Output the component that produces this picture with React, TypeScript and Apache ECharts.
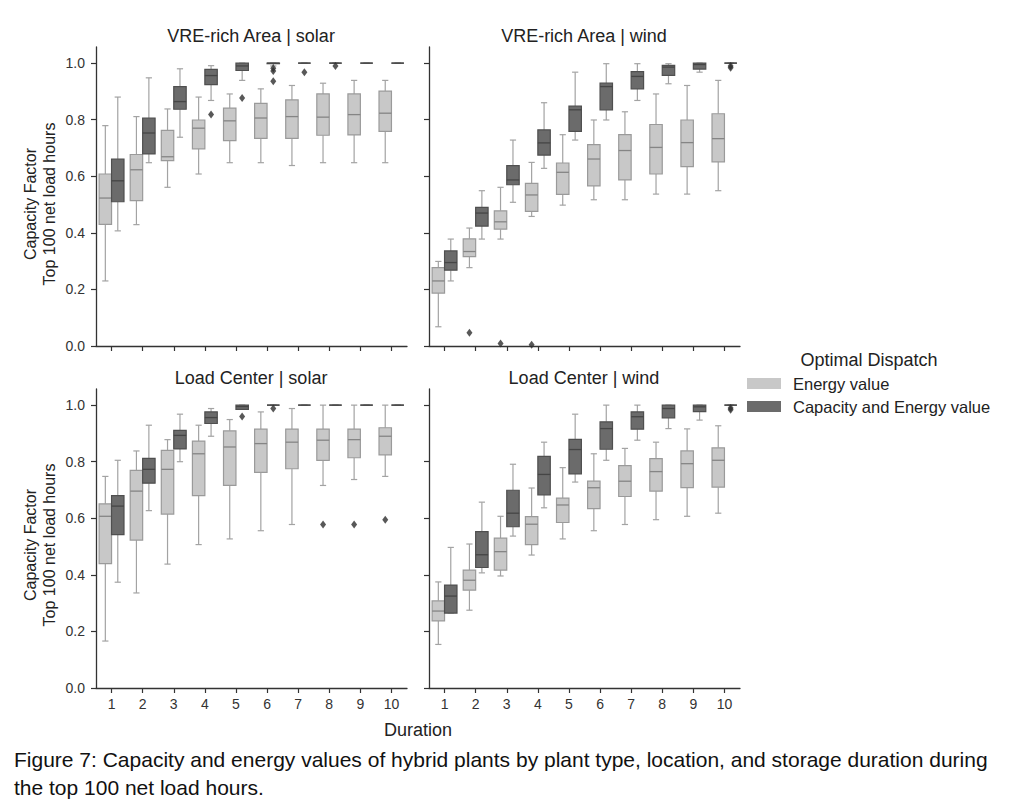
import { useEffect, useRef } from 'react';
import * as echarts from 'echarts';

const durations = ['1', '2', '3', '4', '5', '6', '7', '8', '9', '10'];
const yTicks = [0, 0.2, 0.4, 0.6, 0.8, 1.0];

// [low whisker, q1, median, q3, high whisker] per duration 1..10
const vreSolarEnergy = [
  [0.23, 0.43, 0.523, 0.608, 0.779],
  [0.429, 0.514, 0.623, 0.677, 0.811],
  [0.561, 0.655, 0.669, 0.762, 0.838],
  [0.608, 0.697, 0.77, 0.799, 0.88],
  [0.648, 0.726, 0.796, 0.841, 0.891],
  [0.648, 0.734, 0.806, 0.858, 0.909],
  [0.638, 0.734, 0.811, 0.87, 0.921],
  [0.648, 0.745, 0.809, 0.891, 0.929],
  [0.648, 0.746, 0.818, 0.891, 0.939],
  [0.648, 0.759, 0.823, 0.901, 0.939],
];
const vreSolarCapacity = [
  [0.407, 0.51, 0.584, 0.661, 0.88],
  [0.648, 0.679, 0.753, 0.806, 0.948],
  [0.738, 0.837, 0.864, 0.917, 0.98],
  [0.868, 0.924, 0.956, 0.978, 0.991],
  [0.939, 0.974, 0.99, 1.0, 1.0],
  [0.99, 0.998, 1.0, 1.0, 1.0],
  [1.0, 1.0, 1.0, 1.0, 1.0],
  [1.0, 1.0, 1.0, 1.0, 1.0],
  [1.0, 1.0, 1.0, 1.0, 1.0],
  [1.0, 1.0, 1.0, 1.0, 1.0],
];
const vreSolarEnergyOutliers: number[][] = [];
const vreSolarCapacityOutliers = [
  [3, 0.818], [4, 0.877], [5, 0.982], [5, 0.972], [5, 0.936], [6, 0.968], [7, 0.99],
];

const vreWindEnergy = [
  [0.068, 0.187, 0.23, 0.277, 0.299],
  [0.277, 0.316, 0.334, 0.379, 0.417],
  [0.378, 0.413, 0.439, 0.478, 0.561],
  [0.458, 0.476, 0.534, 0.575, 0.649],
  [0.498, 0.536, 0.614, 0.647, 0.747],
  [0.517, 0.566, 0.661, 0.712, 0.799],
  [0.517, 0.587, 0.691, 0.747, 0.828],
  [0.537, 0.608, 0.702, 0.783, 0.891],
  [0.537, 0.634, 0.719, 0.799, 0.921],
  [0.549, 0.651, 0.733, 0.821, 0.939],
];
const vreWindCapacity = [
  [0.23, 0.268, 0.295, 0.336, 0.378],
  [0.378, 0.424, 0.47, 0.49, 0.549],
  [0.508, 0.57, 0.587, 0.638, 0.728],
  [0.628, 0.675, 0.718, 0.764, 0.86],
  [0.728, 0.759, 0.835, 0.848, 0.968],
  [0.799, 0.835, 0.917, 0.929, 0.998],
  [0.868, 0.909, 0.953, 0.97, 0.998],
  [0.927, 0.957, 0.986, 0.992, 0.998],
  [0.968, 0.979, 0.995, 1.0, 1.0],
  [1.0, 1.0, 1.0, 1.0, 1.0],
];
const vreWindEnergyOutliers = [[1, 0.047], [2, 0.009], [3, 0.004]];
const vreWindCapacityOutliers = [[9, 0.99], [9, 0.984]];

const loadSolarEnergy = [
  [0.166, 0.44, 0.607, 0.651, 0.748],
  [0.336, 0.523, 0.696, 0.769, 0.838],
  [0.438, 0.615, 0.773, 0.84, 0.878],
  [0.507, 0.68, 0.828, 0.873, 0.929],
  [0.527, 0.716, 0.852, 0.909, 0.949],
  [0.556, 0.762, 0.864, 0.915, 0.976],
  [0.578, 0.775, 0.869, 0.915, 0.988],
  [0.716, 0.805, 0.876, 0.915, 1.0],
  [0.737, 0.814, 0.878, 0.915, 1.0],
  [0.748, 0.824, 0.89, 0.92, 1.0],
];
const loadSolarCapacity = [
  [0.374, 0.542, 0.643, 0.68, 0.805],
  [0.627, 0.724, 0.773, 0.812, 0.929],
  [0.8, 0.845, 0.893, 0.911, 0.968],
  [0.89, 0.935, 0.956, 0.976, 0.988],
  [0.985, 0.985, 0.995, 1.0, 1.0],
  [1.0, 1.0, 1.0, 1.0, 1.0],
  [1.0, 1.0, 1.0, 1.0, 1.0],
  [1.0, 1.0, 1.0, 1.0, 1.0],
  [1.0, 1.0, 1.0, 1.0, 1.0],
  [1.0, 1.0, 1.0, 1.0, 1.0],
];
const loadSolarEnergyOutliers = [[7, 0.578], [8, 0.578], [9, 0.595]];
const loadSolarCapacityOutliers = [[4, 0.96], [5, 0.988]];

const loadWindEnergy = [
  [0.154, 0.237, 0.272, 0.308, 0.375],
  [0.275, 0.346, 0.381, 0.417, 0.509],
  [0.396, 0.417, 0.482, 0.53, 0.607],
  [0.47, 0.507, 0.579, 0.606, 0.707],
  [0.527, 0.585, 0.647, 0.671, 0.779],
  [0.556, 0.634, 0.708, 0.731, 0.828],
  [0.578, 0.677, 0.731, 0.786, 0.847],
  [0.595, 0.696, 0.765, 0.811, 0.869],
  [0.607, 0.708, 0.793, 0.838, 0.916],
  [0.618, 0.71, 0.805, 0.849, 0.927],
];
const loadWindCapacity = [
  [0.265, 0.265, 0.325, 0.364, 0.497],
  [0.407, 0.426, 0.471, 0.553, 0.657],
  [0.537, 0.57, 0.618, 0.699, 0.791],
  [0.637, 0.683, 0.755, 0.819, 0.869],
  [0.728, 0.757, 0.843, 0.879, 0.968],
  [0.805, 0.844, 0.917, 0.941, 1.0],
  [0.876, 0.915, 0.959, 0.976, 1.0],
  [0.917, 0.955, 0.988, 1.0, 1.0],
  [0.947, 0.977, 0.994, 1.0, 1.0],
  [1.0, 1.0, 1.0, 1.0, 1.0],
];
const loadWindEnergyOutliers: number[][] = [];
const loadWindCapacityOutliers = [[9, 0.99], [9, 0.984]];

const panelTitles = ['VRE-rich Area | solar', 'VRE-rich Area | wind', 'Load Center | solar', 'Load Center | wind'];
const hueNames = ['Energy value', 'Capacity and Energy value'];

const panels = [
  { title: panelTitles[0], e: vreSolarEnergy, c: vreSolarCapacity, eo: vreSolarEnergyOutliers, co: vreSolarCapacityOutliers },
  { title: panelTitles[1], e: vreWindEnergy, c: vreWindCapacity, eo: vreWindEnergyOutliers, co: vreWindCapacityOutliers },
  { title: panelTitles[2], e: loadSolarEnergy, c: loadSolarCapacity, eo: loadSolarEnergyOutliers, co: loadSolarCapacityOutliers },
  { title: panelTitles[3], e: loadWindEnergy, c: loadWindCapacity, eo: loadWindEnergyOutliers, co: loadWindCapacityOutliers },
];

const FONT = 'Liberation Sans, Arial, sans-serif';
const LIGHT = '#c8c8c8';
const DARK = '#6b6b6b';
const WHISKER = '#a3a3a3';

const grids = [
  { left: 96, top: 47, width: 311, height: 299 },
  { left: 429, top: 47, width: 311, height: 299 },
  { left: 96, top: 389, width: 311, height: 299 },
  { left: 429, top: 389, width: 311, height: 299 },
];

function makeRender(side: number, fill: string, edge: string, medianColor: string) {
  return (_params: any, api: any) => {
    const idx = api.value(0);
    const band = api.size([1, 0])[0];
    const w = band * 0.4;
    const cx = api.coord([idx, 0])[0] + side * band * 0.2;
    const yLow = api.coord([idx, api.value(1)])[1];
    const yQ1 = api.coord([idx, api.value(2)])[1];
    const yMed = api.coord([idx, api.value(3)])[1];
    const yQ3 = api.coord([idx, api.value(4)])[1];
    const yHigh = api.coord([idx, api.value(5)])[1];
    const capW = w * 0.5;
    const ws = { stroke: WHISKER, lineWidth: 1.2 };
    return {
      type: 'group',
      children: [
        { type: 'line', shape: { x1: cx, y1: yLow, x2: cx, y2: yQ1 }, style: ws },
        { type: 'line', shape: { x1: cx, y1: yQ3, x2: cx, y2: yHigh }, style: ws },
        { type: 'line', shape: { x1: cx - capW / 2, y1: yLow, x2: cx + capW / 2, y2: yLow }, style: ws },
        { type: 'line', shape: { x1: cx - capW / 2, y1: yHigh, x2: cx + capW / 2, y2: yHigh }, style: ws },
        {
          type: 'rect',
          shape: { x: cx - w / 2, y: yQ3, width: w, height: Math.max(yQ1 - yQ3, 0) },
          style: { fill, stroke: edge, lineWidth: 1.2 },
        },
        { type: 'line', shape: { x1: cx - w / 2, y1: yMed, x2: cx + w / 2, y2: yMed }, style: { stroke: medianColor, lineWidth: 1.3 } },
      ],
    };
  };
}

export default function App() {
  const ref = useRef<HTMLDivElement>(null);
  useEffect(() => {
    if (!ref.current) return;
    const chart = echarts.init(ref.current, undefined, { renderer: 'svg' });

    const xAxis = grids.map((_, i) => ({
      type: 'category',
      gridIndex: i,
      data: durations,
      boundaryGap: true,
      axisLine: { lineStyle: { color: '#333', width: 1.3 } },
      axisTick: { show: true, alignWithLabel: true, length: 5, lineStyle: { color: '#333', width: 1.2 } },
      axisLabel: { show: i >= 2, color: '#333', fontSize: 14, fontFamily: FONT, margin: 9 },
      splitLine: { show: false },
    }));
    const yAxis = grids.map((_, i) => ({
      type: 'value',
      gridIndex: i,
      min: 0,
      max: 1.057,
      axisLine: { show: true, lineStyle: { color: '#333', width: 1.3 } },
      axisTick: { show: true, length: 5, customValues: yTicks, lineStyle: { color: '#333', width: 1.2 } },
      axisLabel: {
        show: i % 2 === 0,
        customValues: yTicks,
        color: '#333',
        fontSize: 14,
        fontFamily: FONT,
        margin: 11,
        formatter: (v: number) => v.toFixed(1),
      },
      splitLine: { show: false },
    }));

    const series: any[] = [];
    panels.forEach((p, i) => {
      series.push({
        type: 'custom',
        name: hueNames[0],
        xAxisIndex: i,
        yAxisIndex: i,
        renderItem: makeRender(-1, LIGHT, '#9a9a9a', '#858585'),
        encode: { x: 0, y: [1, 2, 3, 4, 5] },
        data: p.e.map((v, k) => [k, ...v]),
        clip: false,
      });
      series.push({
        type: 'custom',
        name: hueNames[1],
        xAxisIndex: i,
        yAxisIndex: i,
        renderItem: makeRender(1, DARK, '#4f4f4f', '#454545'),
        encode: { x: 0, y: [1, 2, 3, 4, 5] },
        data: p.c.map((v, k) => [k, ...v]),
        clip: false,
      });
      series.push({
        type: 'scatter',
        xAxisIndex: i,
        yAxisIndex: i,
        symbol: 'diamond',
        symbolSize: [6, 8],
        symbolOffset: [-6.2, 0],
        itemStyle: { color: '#2e2e2e' },
        data: p.eo,
      });
      series.push({
        type: 'scatter',
        xAxisIndex: i,
        yAxisIndex: i,
        symbol: 'diamond',
        symbolSize: [6, 8],
        symbolOffset: [6.2, 0],
        itemStyle: { color: '#2e2e2e' },
        data: p.co,
      });
    });

    const txt = (x: number, y: number, text: string, size: number, extra: any = {}) => ({
      type: 'text',
      x,
      y,
      style: {
        text,
        fill: '#222',
        font: `${size}px ${FONT}`,
        textAlign: 'center',
        textVerticalAlign: 'middle',
        ...extra,
      },
    });

    const graphic: any[] = [
      txt(251, 36, panels[0].title, 18),
      txt(584, 36, panels[1].title, 18),
      txt(251, 378, panels[2].title, 18),
      txt(584, 378, panels[3].title, 18),
      {
        type: 'text', x: 40, y: 204, rotation: Math.PI / 2,
        style: { text: 'Capacity Factor\nTop 100 net load hours', fill: '#222', font: `16px ${FONT}`, textAlign: 'center', textVerticalAlign: 'middle', lineHeight: 19 },
      },
      {
        type: 'text', x: 40, y: 545, rotation: Math.PI / 2,
        style: { text: 'Capacity Factor\nTop 100 net load hours', fill: '#222', font: `16px ${FONT}`, textAlign: 'center', textVerticalAlign: 'middle', lineHeight: 19 },
      },
      txt(418, 730, 'Duration', 18),
      txt(869, 360, 'Optimal Dispatch', 18),
      { type: 'rect', shape: { x: 747, y: 378, width: 34, height: 11 }, style: { fill: LIGHT } },
      { type: 'rect', shape: { x: 747, y: 401, width: 34, height: 11 }, style: { fill: DARK } },
      txt(793, 384, hueNames[0], 16.5, { textAlign: 'left' }),
      txt(793, 407, hueNames[1], 16.5, { textAlign: 'left' }),
      txt(14, 759, 'Figure 7: Capacity and energy values of hybrid plants by plant type, location, and storage duration during', 21, { textAlign: 'left', fill: '#111' }),
      txt(14, 787, 'the top 100 net load hours.', 21, { textAlign: 'left', fill: '#111' }),
    ];

    chart.setOption({
      animation: false,
      backgroundColor: '#fff',
      grid: grids.map((g) => ({ ...g, containLabel: false })),
      xAxis,
      yAxis,
      series,
      graphic,
    });
    return () => chart.dispose();
  }, []);

  return <div ref={ref} style={{ position: 'absolute', left: 0, top: 0, width: 1024, height: 810 }} />;
}
